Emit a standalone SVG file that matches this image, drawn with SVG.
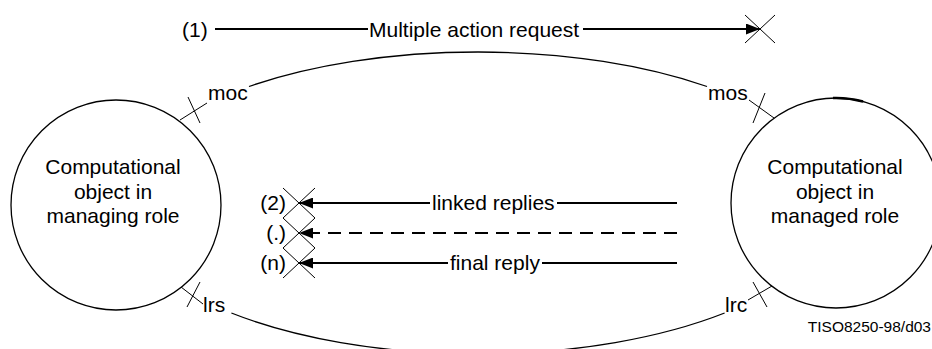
<svg xmlns="http://www.w3.org/2000/svg" width="932" height="349" viewBox="0 0 932 349">
<defs>
<marker id="ah" viewBox="0 0 14 11" refX="14" refY="5.5" markerWidth="14" markerHeight="11" markerUnits="userSpaceOnUse" orient="auto"><path d="M0,0 L14,5.5 L0,11 z" fill="#000"/></marker>
</defs>
<style>
text{font-family:"Liberation Sans",Arial,sans-serif;font-size:21px;fill:#000}
.node{fill:#fff;stroke:#000;stroke-width:1.3}
.arc{fill:none;stroke:#000;stroke-width:1.3}
.thin{fill:none;stroke:#000;stroke-width:1}
.msg{fill:none;stroke:#000;stroke-width:2}
.dash{stroke-dasharray:13 8}
.mid{text-anchor:middle}
.end{text-anchor:end}
.small{font-size:15.5px}
</style>
<rect width="932" height="349" fill="#fff"/>
<g id="connectors">
  <path class="arc" d="M249,86.5 A360,151 0 0 1 707,86.5"/>
  <path class="arc" d="M231.4,313 A360,151 0 0 0 724.6,313"/>
  <path class="thin" d="M180,120 L207,103 M188,97 L200,123"/>
  <path class="thin" d="M774,118 L749,100 M765,93 L753,123"/>
  <path class="thin" d="M181,287 L203,304 M200,282 L187,307"/>
  <path class="thin" d="M772,286 L748,300 M753,282 L767,307"/>
  <text x="208" y="100">moc</text>
  <text x="708" y="100">mos</text>
  <text x="203" y="312">lrs</text>
  <text x="725" y="312">lrc</text>
  <text x="182" y="36.5">(1)</text>
  <line class="msg" x1="215" y1="29" x2="368" y2="29"/>
  <text x="369" y="36.5">Multiple action request</text>
  <line class="msg" x1="583" y1="29" x2="760" y2="29" marker-end="url(#ah)"/>
  <path class="thin" d="M745,15 L775,43 M775,15 L745,43"/>
  <text class="end" x="286" y="210">(2)</text>
  <line class="msg" x1="430" y1="203" x2="299" y2="203" marker-end="url(#ah)"/>
  <text x="432" y="210">linked replies</text>
  <line class="msg" x1="557" y1="203" x2="677" y2="203"/>
  <path class="thin" d="M283,188 L315,218 M315,188 L283,218"/>
  <text class="end" x="286" y="240">(.)</text>
  <line class="msg dash" x1="677" y1="233" x2="299" y2="233" marker-end="url(#ah)"/>
  <path class="thin" d="M283,218 L315,248 M315,218 L283,248"/>
  <text class="end" x="286" y="270">(n)</text>
  <line class="msg" x1="448" y1="263" x2="299" y2="263" marker-end="url(#ah)"/>
  <text x="450" y="270">final reply</text>
  <line class="msg" x1="542" y1="263" x2="677" y2="263"/>
  <path class="thin" d="M283,248 L315,278 M315,248 L283,278"/>
</g>
<g id="managing">
  <circle class="node" cx="116" cy="205" r="105"/>
  <text class="mid" x="113" y="174">Computational</text>
  <text class="mid" x="113" y="198.5">object in</text>
  <text class="mid" x="113" y="223">managing role</text>
</g>
<g id="managed">
  <circle class="node" cx="836" cy="203" r="105"/>
  <path d="M833,98.04 A105,105 0 0 1 863,101.5" fill="none" stroke="#000" stroke-width="2.6"/>
  <text class="mid" x="835" y="174">Computational</text>
  <text class="mid" x="835" y="198.5">object in</text>
  <text class="mid" x="835" y="223">managed role</text>
</g>
<text class="end small" x="931" y="332">TISO8250-98/d03</text>
</svg>
